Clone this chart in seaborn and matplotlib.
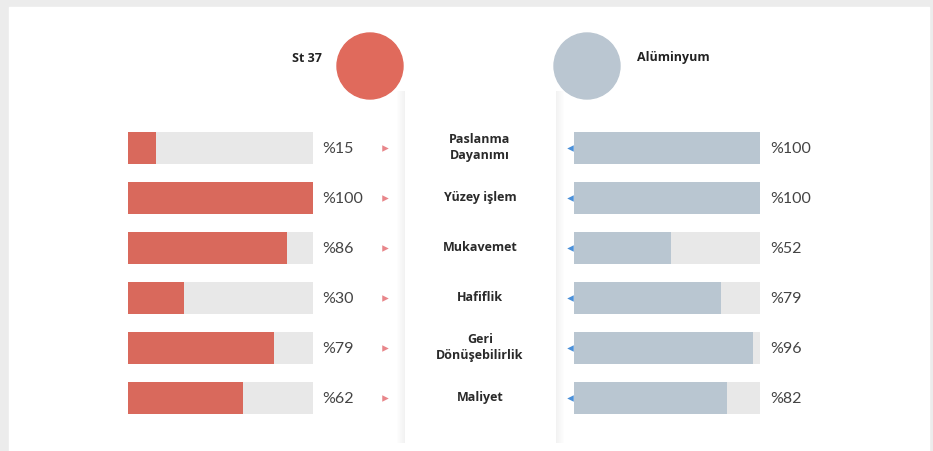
import numpy as np
import pandas as pd
import matplotlib.pyplot as plt
import seaborn as sns
from matplotlib.patches import Circle, Rectangle

# veriler
kriterler = ["Paslanma\nDayanımı", "Yüzey işlem", "Mukavemet", "Hafiflik",
             "Geri\nDönüşebilirlik", "Maliyet"]
st37 = [15, 100, 86, 30, 79, 62]
aluminyum = [100, 100, 52, 79, 96, 82]
malzemeler = ["St 37", "Alüminyum"]

kirmizi = "#d9695c"
gri_mavi = "#b9c6d1"
iz = "#e8e8e8"

sns.set_theme(style="white")
plt.rcParams['font.family'] = ['Open Sans', 'DejaVu Sans']

W, H = 933, 452
fig = plt.figure(figsize=(W / 100, H / 100), dpi=100)

# arka plan ve süslemeler (piksel koordinatları)
bg = fig.add_axes([0, 0, 1, 1], zorder=0)
bg.set_xlim(0, W)
bg.set_ylim(H, 0)
bg.axis("off")
bg.add_patch(Rectangle((0, 0), W, H, color="#ececec"))
bg.add_patch(Rectangle((9, 8), 920, H - 8, color="white"))

# yumuşak dikey gölgeler
for x0, yon in [(404, -1), (556, 1)]:
    for k in range(8):
        bg.add_patch(Rectangle((x0 + yon * k - 0.5, 92), 1, 352,
                               color="#dcdcdc", alpha=0.35 * (1 - k / 8),
                               linewidth=0))

bg.add_patch(Circle((370, 67), 33, color="#e06a5c"))
bg.add_patch(Circle((587, 67), 33, color="#bac6d1"))
bg.text(322, 58, malzemeler[0], ha="right", va="center", fontsize=9,
        fontweight="bold", color="#222222")
bg.text(637, 58, malzemeler[1], ha="left", va="center", fontsize=9,
        fontweight="bold", color="#222222")

df_sol = pd.DataFrame({"kriter": kriterler, "deger": st37, "tam": 100})
df_sag = pd.DataFrame({"kriter": kriterler, "deger": aluminyum, "tam": 100})

satir_y0, satir_h = 124, 50
alt = 1 - (satir_y0 + satir_h * len(kriterler)) / H
yuk = satir_h * len(kriterler) / H

def cubuk_paneli(df, x_px, w_px, renk):
    ax = fig.add_axes([x_px / W, alt, w_px / W, yuk], zorder=1)
    ax.patch.set_alpha(0)
    sns.barplot(data=df, x="tam", y="kriter", color=iz, width=0.64,
                saturation=1, linewidth=0, ax=ax)
    sns.barplot(data=df, x="deger", y="kriter", color=renk, width=0.64,
                saturation=1, linewidth=0, ax=ax)
    ax.set_xlim(0, 100)
    ax.axis("off")
    return ax

ax_sol = cubuk_paneli(df_sol, 128, 185, kirmizi)
ax_sag = cubuk_paneli(df_sag, 574, 186, gri_mavi)

# yüzde etiketleri, oklar ve kriter adları
for i, (k, a, b) in enumerate(zip(kriterler, st37, aluminyum)):
    y = satir_y0 + satir_h * (i + 0.5)
    bg.text(322, y, f"%{a}", ha="left", va="center", fontsize=11.5,
            color="#444444", family=["Lato", "DejaVu Sans"])
    bg.text(770, y, f"%{b}", ha="left", va="center", fontsize=11.5,
            color="#444444", family=["Lato", "DejaVu Sans"])
    bg.scatter([385], [y], marker=">", s=22, color="#e8868a", linewidths=0)
    bg.scatter([570], [y], marker="<", s=22, color="#4a90d9", linewidths=0)
    bg.text(480, y - 1, k, ha="center", va="center", fontsize=9,
            fontweight="bold", color="#2a2a2a", linespacing=1.3)

fig.savefig("out.png", dpi=100)
